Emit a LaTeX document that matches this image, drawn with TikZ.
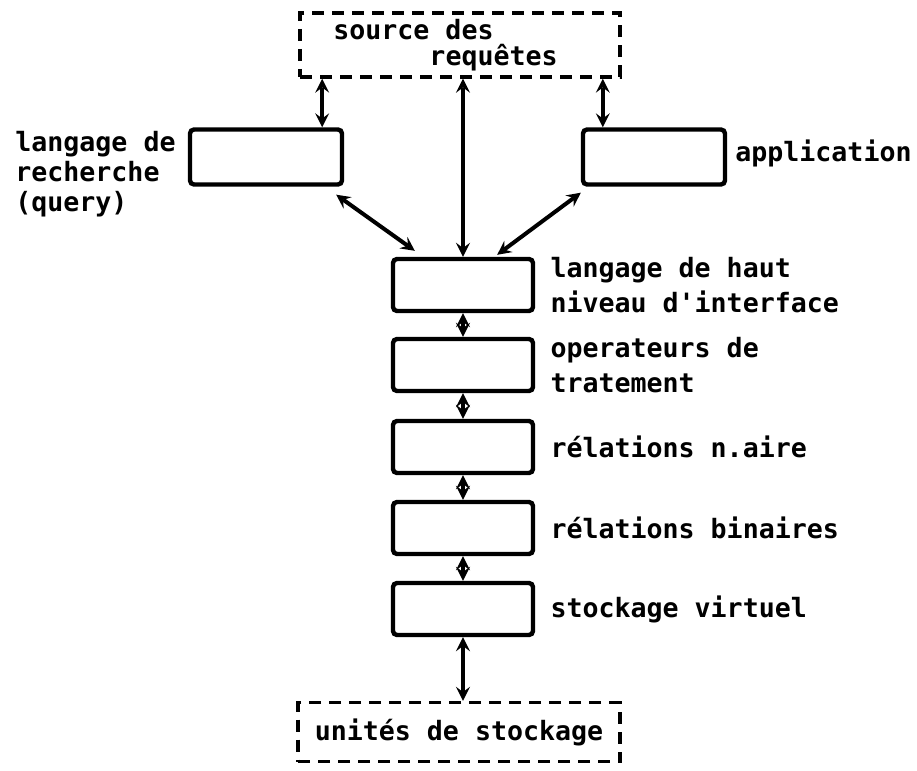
\documentclass[tikz,border=0pt]{standalone}
\usepackage{fontspec}
\setmainfont{DejaVu Sans Mono}
\usetikzlibrary{arrows,positioning}

\begin{document}
\begin{tikzpicture}[x=0.5pt, y=-0.5pt, >=stealth, every node/.style={font=\fontsize{13.3}{15}\selectfont\bfseries}]

	\tikzset{
	layerbox/.style={draw, line width=2.2pt, rounded corners=2pt, minimum width=70pt, minimum height=26pt},
	extbox/.style={draw, line width=1.7pt, dash pattern=on 6pt off 4pt, minimum width=160pt},
	desc/.style={align=left, anchor=west, inner sep=0pt},
	link/.style={<->, line width=2pt}
	}

	\useasboundingbox (0,0) rectangle (917,771);

	% Nodes
	\node[extbox, minimum height=32pt] (src) at (460,45) {};
	\node[desc] (src_txt) at (333,45) {source des\\[-2pt]\phantom{source}requêtes};

	\node[layerbox, minimum width=76pt, minimum height=27.5pt] (query) at (266,157) {};
	\node[layerbox, minimum width=71pt, minimum height=27.5pt] (appli) at (654,157) {};
	\node[desc] (query_txt) at (15,174) {langage de\\recherche\\(query)};
	\node[desc] (appli_txt) at (735,153) {application};

	\node[layerbox] (haut) at (463,285) {};
	\node[layerbox, node distance=40pt, below of=haut] (oper) {};
	\node[layerbox, node distance=41pt, below of=oper] (naire) {};
	\node[layerbox, node distance=40.5pt, below of=naire] (binaire) {};
	\node[layerbox, node distance=40.5pt, below of=binaire] (virtuel) {};

	\node[desc, right=7.5pt of haut] (haut_txt) {langage de haut\\[2.5pt]niveau d\textquotesingle interface};
	\node[desc, right=7.5pt of oper] (oper_txt) {operateurs de\\[2.5pt]tratement};
	\node[desc, right=7.5pt of naire] (naire_txt) {rélations n.aire};
	\node[desc, right=7.5pt of binaire] (binaire_txt) {rélations binaires};
	\node[desc, right=7.5pt of virtuel] (virtuel_txt) {stockage virtuel};

	\node[extbox, minimum width=161pt, minimum height=29.5pt] (stock) at (459,732) {unités de stockage};

	% Lines
	\draw[link] ([xshift=-11pt]query.north east) -- ([xshift=-11pt]query.north east |- src.south);
	\draw[link] ([xshift=11pt]appli.north west) -- ([xshift=11pt]appli.north west |- src.south);
	\draw[link] (haut.north) -- (haut.north |- src.south);
	\draw[link] ([xshift=-4pt,yshift=-4pt]query.south east) -- ([xshift=12pt,yshift=3pt]haut.north west);
	\draw[link] ([yshift=-3pt]appli.south west) -- ([xshift=-19pt,yshift=1pt]haut.north east);

	\draw[link] (haut) -- (oper);
	\draw[link] (oper) -- (naire);
	\draw[link] (naire) -- (binaire);
	\draw[link] (binaire) -- (virtuel);
	\draw[link] (virtuel.south) -- (virtuel.south |- stock.north);

\end{tikzpicture}
\end{document}
